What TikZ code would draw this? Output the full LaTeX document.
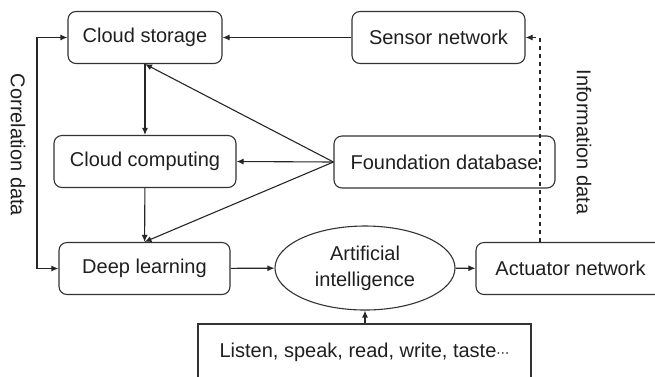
\documentclass[tikz,border=0pt]{standalone}
\usepackage{fontspec}
\setmainfont{Liberation Sans}
\newfontfamily\symfont{DejaVu Sans}
\usepackage{tikz}
\usetikzlibrary{arrows.meta,shapes.geometric}

\begin{document}
\begin{tikzpicture}[x=1pt,y=-1pt,>={Latex[length=7pt,width=6pt]},
    every node/.style={font=\fontsize{20}{26}\selectfont,text=black!88},
    rbox/.style={draw=black!80,line width=1.1pt,rounded corners=8pt,minimum height=52pt,inner sep=0pt},
    flow/.style={->,line width=1.1pt,draw=black!85}]
        \useasboundingbox (0,0) rectangle (655,376);
        \clip (0,0) rectangle (655,376);
        % 左列
        \node [rbox,minimum width=154pt] (cstore) at (145,37.5) {Cloud storage};
        \node [rbox,minimum width=182pt] (ccomp) at (145,161.5) {Cloud computing};
        \node [rbox,minimum width=171pt] (deepl) at (144.5,268.5) {Deep learning};
        % 右列
        \node [rbox,minimum width=173pt] (sensor) at (438.5,37.5) {Sensor network};
        \node [rbox,minimum width=221pt] (found) at (444.5,162) {Foundation database};
        \node [rbox,minimum width=189pt] (actu) at (570.5,268.5) {Actuator network};
        % 人工智能
        \node [ellipse,draw=black!80,line width=1.1pt,minimum width=180pt,minimum height=84pt,inner sep=0pt,align=center] (ai) at (365,268) {Artificial\\intelligence};
        \node [draw=black!80,line width=1.1pt,minimum width=333pt,minimum height=56pt,inner sep=0pt] (senses) at (364.5,352) {Listen, speak, read, write, taste{\symfont\fontsize{13}{13}\selectfont ⋯}};
        % 连线
        \draw [flow] (sensor) -- (cstore);
        \draw [flow] (cstore) -- (ccomp);
        \draw [flow] (ccomp) -- (deepl);
        \draw [flow] (found.west) -- (cstore.south);
        \draw [flow] (found.west) -- (ccomp.east);
        \draw [flow] (found.west) -- (deepl.north);
        \draw [flow] (deepl) -- (ai);
        \draw [flow] (ai) -- (actu);
        \draw [flow] (senses.north -| ai) -- (ai.south);
        % 反馈
        \coordinate (corr) at (37,0);
        \coordinate (info) at (540,0);
        \draw [flow,<->] (deepl.west) -- (deepl.west -| corr) -- (cstore.west -| corr) -- (cstore.west);
        \draw [flow,dash pattern=on 4pt off 4pt] (actu.north -| info) -- (sensor.east -| info) -- (sensor.east);
        \node [rotate=-90] (corrlab) at (18,145) {Correlation data};
        \node [rotate=-90] (infolab) at (584,142) {Information data};
    \end{tikzpicture}
\end{document}
